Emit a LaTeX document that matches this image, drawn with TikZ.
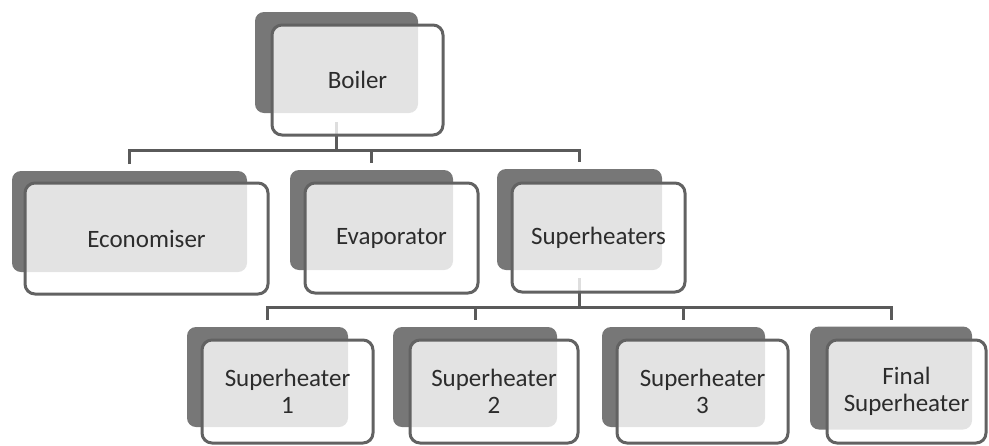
\documentclass[tikz,border=0pt]{standalone}
\usepackage{fontspec}
\setmainfont{Carlito}
\usetikzlibrary{calc}
\definecolor{backgray}{HTML}{777777}
\definecolor{edgegray}{HTML}{626262}
\definecolor{linegray}{HTML}{5A5A5A}
\definecolor{textgray}{HTML}{2C2C2C}
\begin{document}
\begin{tikzpicture}[x=1pt,y=-1pt,
  backbox/.style={rectangle, rounded corners=9pt, fill=backgray,
    inner sep=0pt, outer sep=0pt},
  frontbox/.style={rectangle, rounded corners=10pt, fill=white,
    fill opacity=0.8, text opacity=1, draw=edgegray, line width=3pt,
    inner sep=0pt, outer sep=0pt, text=textgray, align=center,
    font=\fontsize{25}{27}\selectfont},
  conn/.style={draw=linegray, line width=3pt}]
\useasboundingbox (0,0) rectangle (989,445);

% shadow plates behind each box
\node[backbox, minimum width=163pt, minimum height=101pt] (boilerB) at (336.5,62.5) {};
\node[backbox, minimum width=235pt, minimum height=101pt] (econB) at (129.5,221.5) {};
\node[backbox, minimum width=163pt, minimum height=100pt] (evapB) at (371.5,220) {};
\node[backbox, minimum width=165pt, minimum height=101pt] (supB) at (579.5,219.5) {};
\node[backbox, minimum width=161pt, minimum height=100pt] (shaB) at (267.5,377) {};
\node[backbox, minimum width=164pt, minimum height=100pt] (shbB) at (475,377) {};
\node[backbox, minimum width=163pt, minimum height=100pt] (shcB) at (683.5,377) {};
\node[backbox, minimum width=162pt, minimum height=103pt] (finB) at (891,378) {};

% bus lines
\coordinate (busA) at (0,150);
\coordinate (busB) at (0,307);

% Boiler -> first level
\draw[conn] ([yshift=-9pt]boilerB.south) -- (boilerB.south |- busA);
\draw[conn] ([yshift=7pt]econB.north) |- (supB.north |- busA) -- ([yshift=7pt]supB.north);
\draw[conn] (evapB.north |- busA) -- ([yshift=7pt]evapB.north);

% Superheaters -> second level
\draw[conn] ([yshift=-8pt]supB.south) -- (supB.south |- busB);
\draw[conn] ([yshift=7pt]shaB.north) |- (finB.north |- busB) -- ([yshift=7pt]finB.north);
\draw[conn] (shbB.north |- busB) -- ([yshift=7pt]shbB.north);
\draw[conn] (shcB.north |- busB) -- ([yshift=7pt]shcB.north);

% front boxes with labels
\node[frontbox, minimum width=171pt, minimum height=110pt] (boiler) at (357.5,80) {Boiler};
\node[frontbox, minimum width=243pt, minimum height=111pt] (econ) at (146.5,238.5) {Economiser};
\node[frontbox, minimum width=173pt, minimum height=110pt] (evap) at (391.5,238) {Evaporator};
\node[frontbox, minimum width=173pt, minimum height=109pt] (sup) at (598.5,237.5) {Superheaters};
\node[frontbox, minimum width=171pt, minimum height=103pt] (sha) at (287.5,391.5) {Superheater\\1};
\node[frontbox, minimum width=168pt, minimum height=103pt] (shb) at (494,391.5) {Superheater\\2};
\node[frontbox, minimum width=171pt, minimum height=103pt] (shc) at (702.5,391.5) {Superheater\\3};
\node[frontbox, minimum width=159pt, minimum height=103pt] (fin) at (906.5,391.5) {Final\\Superheater};
\end{tikzpicture}
\end{document}
